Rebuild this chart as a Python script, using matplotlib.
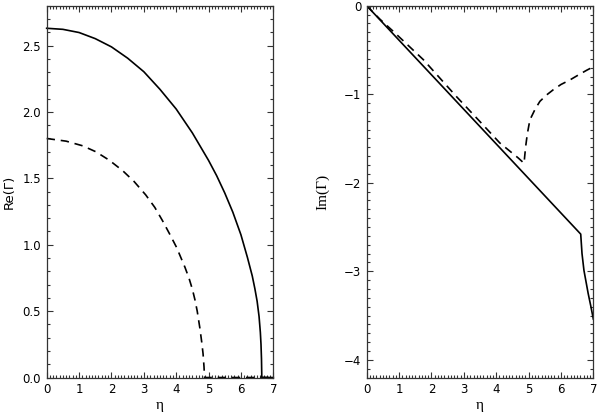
import matplotlib
matplotlib.use("Agg")
import matplotlib.pyplot as plt
from matplotlib.ticker import MultipleLocator, FormatStrFormatter, FuncFormatter

# ---- data ----
re_solid_eta = [0.0, 0.5, 1.0, 1.5, 2.0, 2.5, 3.0, 3.5, 4.0, 4.5, 5.0, 5.25, 5.5, 5.75, 6.0, 6.2, 6.35, 6.43, 6.5, 6.56, 6.6, 6.62, 6.635, 6.645, 7.0]
re_solid_val = [2.630, 2.622, 2.598, 2.552, 2.490, 2.405, 2.303, 2.170, 2.022, 1.842, 1.635, 1.520, 1.390, 1.245, 1.075, 0.905, 0.765, 0.670, 0.575, 0.460, 0.340, 0.250, 0.140, 0.0, 0.0]

re_dash_eta = [0.0, 0.6, 1.11, 1.52, 1.93, 2.35, 2.70, 3.06, 3.34, 3.58, 3.80, 4.01, 4.27, 4.4, 4.5, 4.58, 4.65, 4.73, 4.79, 4.83, 4.86, 4.875, 7.0]
re_dash_val = [1.80, 1.78, 1.745, 1.70, 1.637, 1.557, 1.476, 1.375, 1.281, 1.18, 1.08, 0.981, 0.831, 0.745, 0.665, 0.585, 0.50, 0.375, 0.265, 0.18, 0.08, 0.0, 0.0]

im_solid_eta = [0.0, 6.61, 6.65, 6.71, 6.78, 6.84, 6.92, 7.0]
im_solid_val = [0.0, -2.58, -2.80, -2.99, -3.13, -3.25, -3.39, -3.54]

im_dash_eta = [0.0, 0.4, 0.82, 1.75, 2.78, 3.5, 4.11, 4.68, 4.86, 4.88, 4.91, 4.96, 5.04, 5.2, 5.35, 5.55, 5.76, 6.0, 6.27, 6.55, 6.79, 7.0]
im_dash_val = [0.0, -0.15, -0.29, -0.61, -1.03, -1.31, -1.55, -1.72, -1.78, -1.70, -1.59, -1.45, -1.29, -1.17, -1.08, -1.01, -0.95, -0.89, -0.84, -0.78, -0.73, -0.69]

xlim = (0, 7)
re_ylim = (0, 2.8)
im_ylim = (-4.2, 0)

fig = plt.figure(figsize=(6.0, 4.16), dpi=100)
ax1 = fig.add_axes([0.0778, 0.0925, 0.3777, 0.8938])
ax2 = fig.add_axes([0.6112, 0.0925, 0.3777, 0.8938])

lw = 1.2
dash = (5, 3.5)
ax1.plot(re_solid_eta, re_solid_val, color="black", lw=lw, clip_on=False)
ax1.plot(re_dash_eta, re_dash_val, color="black", lw=lw, dashes=dash, clip_on=False)
ax2.plot(im_solid_eta, im_solid_val, color="black", lw=lw)
ax2.plot(im_dash_eta, im_dash_val, color="black", lw=lw, dashes=dash)

ax1.set_xlim(*xlim)
ax1.set_ylim(*re_ylim)
ax2.set_xlim(*xlim)
ax2.set_ylim(*im_ylim)

label_font = dict(family="Liberation Serif", size=11)
ax1.set_xlabel("η", fontdict=label_font, labelpad=2)
ax2.set_xlabel("η", fontdict=label_font, labelpad=2)
ax1.set_ylabel("Re(Γ)", fontdict=dict(family="DejaVu Sans", size=9.5), labelpad=5)
ax2.set_ylabel("Im(Γ)", fontdict=label_font, labelpad=10)

for ax in (ax1, ax2):
    ax.xaxis.set_major_locator(MultipleLocator(1))
    ax.xaxis.set_minor_locator(MultipleLocator(0.1))
    ax.yaxis.set_minor_locator(MultipleLocator(0.1))
    ax.tick_params(which="both", direction="in", top=True, right=True,
                   width=0.8, color="#333333", labelsize=8.5)
    ax.tick_params(which="major", length=4.5, pad=4)
    ax.tick_params(which="minor", length=2.2)
    for s in ax.spines.values():
        s.set_linewidth(0.9)
        s.set_color("#333333")
    for lab in ax.get_xticklabels() + ax.get_yticklabels():
        lab.set_family("DejaVu Sans")

ax1.yaxis.set_major_locator(MultipleLocator(0.5))
ax1.yaxis.set_major_formatter(FormatStrFormatter("%.1f"))
ax2.yaxis.set_major_locator(MultipleLocator(1))
ax2.yaxis.set_major_formatter(FuncFormatter(lambda v, p: "0" if abs(v) < 1e-9 else "\u2212%d" % abs(round(v))))

fig.savefig("out.png", dpi=100)
